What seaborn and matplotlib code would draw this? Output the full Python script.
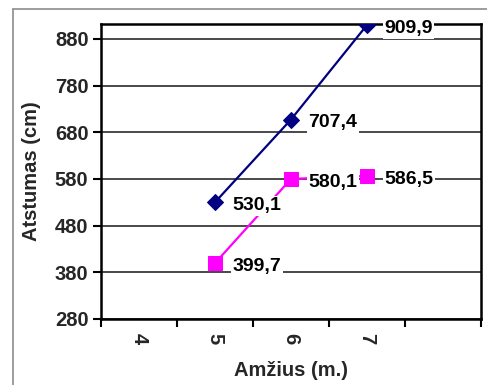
import matplotlib
matplotlib.use("Agg")
import matplotlib.pyplot as plt
import seaborn as sns
import pandas as pd
from matplotlib.lines import Line2D

# Age categories on the x axis (the last slot is left empty)
categories = ["4", "5", "6", "7", ""]
# Series values by age
series_a_ages = ["5", "6", "7"]
series_a_values = [530.1, 707.4, 909.9]
series_b_ages = ["5", "6", "7"]
series_b_values = [399.7, 580.1, 586.5]
y_ticks = [280, 380, 480, 580, 680, 780, 880]

sns.set_theme(style="ticks")
plt.rcParams["font.family"] = ["Liberation Sans", "DejaVu Sans"]
plt.rcParams["font.weight"] = "bold"

pos = {c: i for i, c in enumerate(categories)}
df_a = pd.DataFrame({"x": [pos[a] for a in series_a_ages], "y": series_a_values})
df_b = pd.DataFrame({"x": [pos[a] for a in series_b_ages], "y": series_b_values})

fig = plt.figure(figsize=(4.87, 3.85), dpi=100)
W, H = 487, 385
ax = fig.add_axes([101 / W, 1 - 319 / H, 380 / W, 295 / H])

# outer chart border (left and top edges inside the image)
fig.add_artist(Line2D([13 / W, 13 / W], [0, 1 - 9 / H], transform=fig.transFigure,
                      color="#8c8c8c", linewidth=1.2))
fig.add_artist(Line2D([13 / W, 1], [1 - 9 / H, 1 - 9 / H], transform=fig.transFigure,
                      color="#8c8c8c", linewidth=1.2))

navy = "#000080"
magenta = "#FF00FF"

sns.lineplot(data=df_a, x="x", y="y", ax=ax, color=navy, marker="D",
             markersize=8, markeredgecolor=navy, linewidth=1.6, zorder=3)
sns.lineplot(data=df_b, x="x", y="y", ax=ax, color=magenta, marker="s",
             markersize=10, markeredgecolor=magenta, linewidth=1.6, zorder=3)

# value labels with a white box that masks the lines behind them
for df in (df_a, df_b):
    for x, y in zip(df["x"], df["y"]):
        ax.annotate(f"{y:.1f}".replace(".", ","), (x, y),
                    xytext=(12.5, -2.5), textcoords="offset points",
                    ha="left", va="center", fontsize=14, fontweight="bold",
                    color="black", zorder=7,
                    bbox=dict(boxstyle="square,pad=0.08", fc="white", ec="none"))

ax.set_xlim(-0.5, len(categories) - 0.5)
ax.set_ylim(280, 912)
ax.set_yticks(y_ticks)
ax.set_yticklabels([str(t) for t in y_ticks], fontsize=14.5, fontweight="bold")
ax.yaxis.grid(True, color="#3a3a3a", linewidth=1.3)
ax.set_axisbelow(True)

# category boundaries get tick marks, category centres get the labels
ax.set_xticks([i - 0.5 for i in range(len(categories) + 1)])
ax.set_xticklabels([])
ax.set_xticks(list(range(len(categories))), minor=True)
ax.set_xticklabels(categories, minor=True, rotation=-90, fontsize=14.5,
                   fontweight="bold")
ax.tick_params(axis="x", which="major", direction="out", length=6, width=1.5,
               color="black", bottom=True)
ax.tick_params(axis="x", which="minor", length=0, pad=10)
ax.tick_params(axis="y", direction="out", length=6, width=1.5, color="black",
               left=True, pad=3)

# plot-area frame
for name in ("left", "right", "top", "bottom"):
    sp = ax.spines[name]
    sp.set_visible(True)
    sp.set_color("black")
    sp.set_linewidth(1.8)

ax.set_xlabel("Amžius (m.)", fontsize=14.5, fontweight="bold", labelpad=12)
ax.set_ylabel("Atstumas (cm)", fontsize=14.5, fontweight="bold", labelpad=10)

fig.savefig("out.png", dpi=100)
